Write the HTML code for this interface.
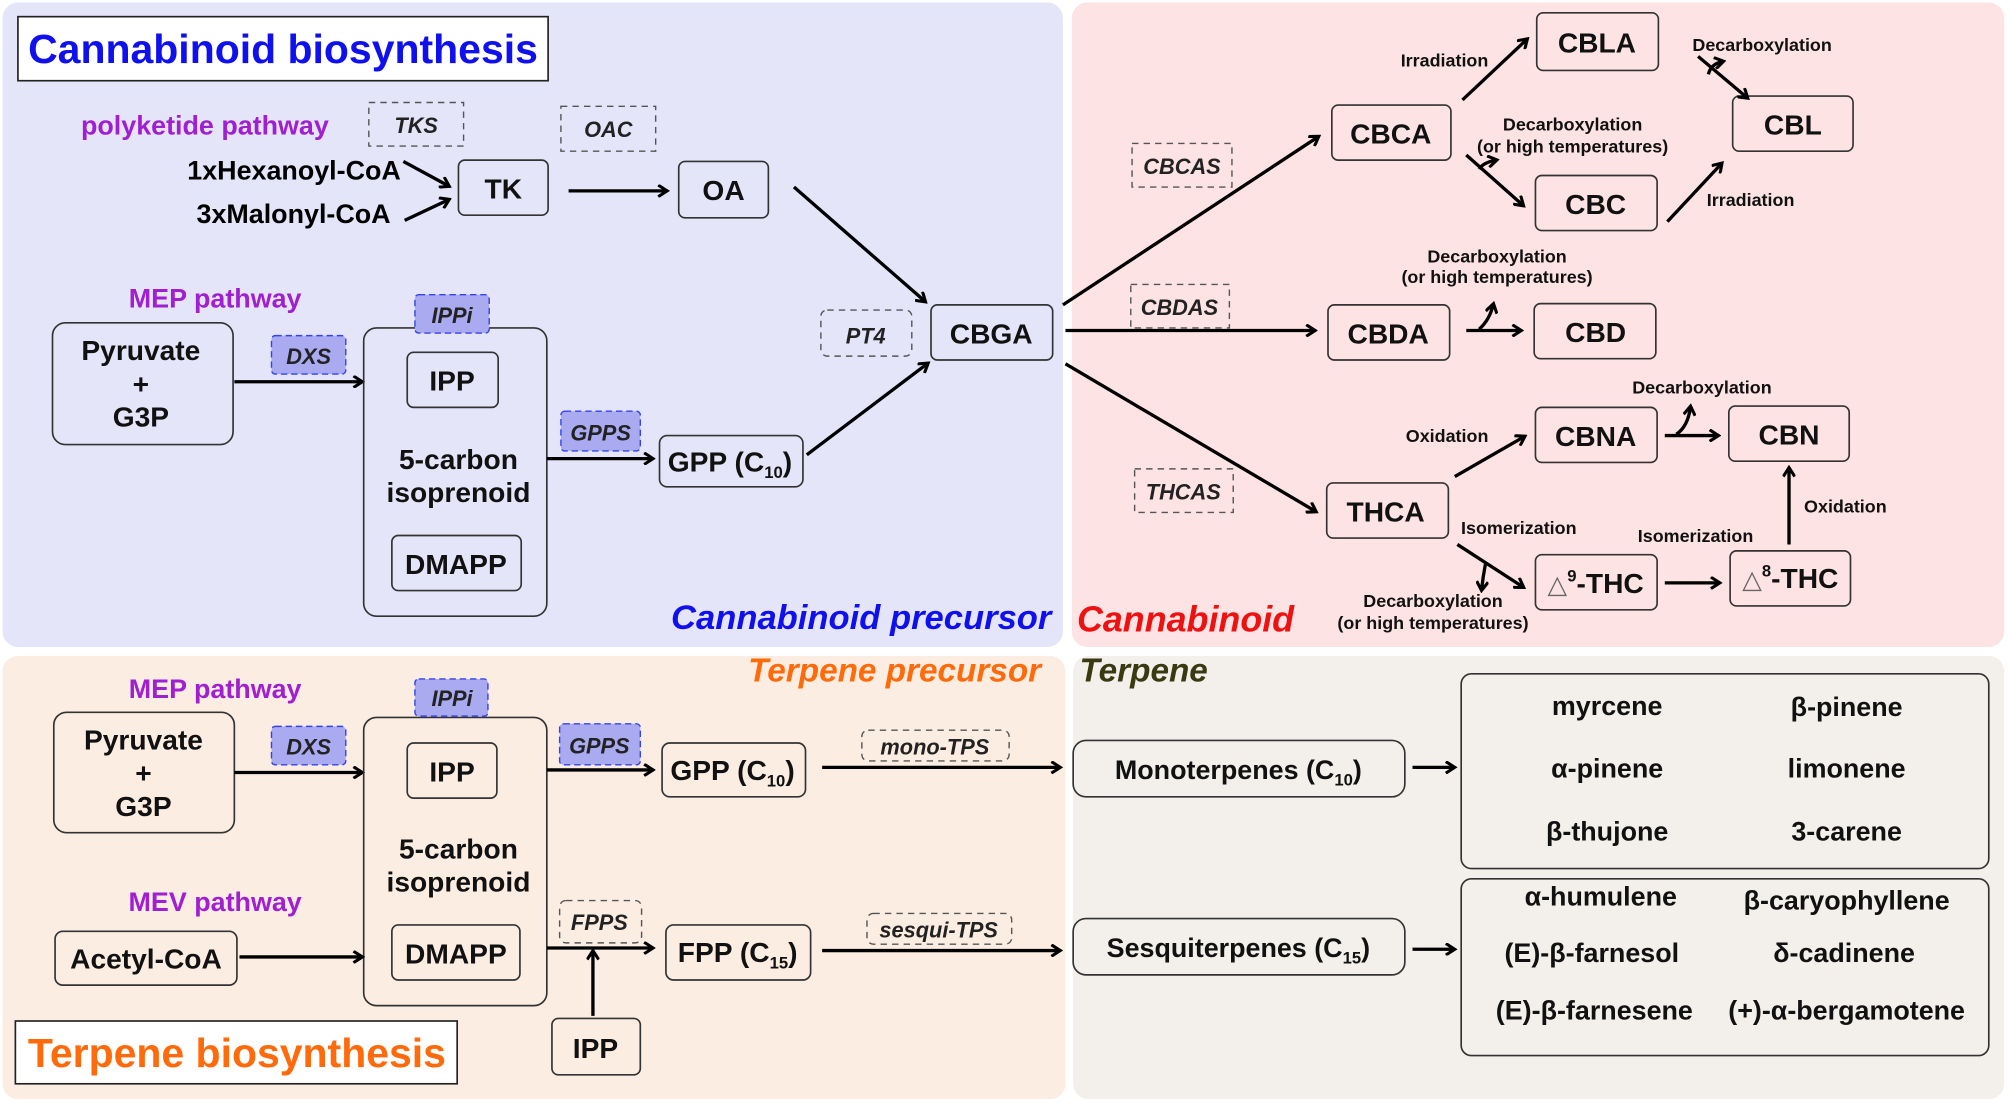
<!DOCTYPE html>
<html><head><meta charset="utf-8"><style>
html,body{margin:0;padding:0;background:#fff;}
svg{display:block;}
text{font-family:"Liberation Sans Narrow","Liberation Sans",sans-serif;font-weight:bold;}
.b{font-size:22px;fill:#111;text-anchor:middle;}
.s{font-size:14px;fill:#111;text-anchor:middle;}
.e{font-size:17px;font-style:italic;fill:#222;text-anchor:middle;}
.l{font-size:21px;fill:#111;text-anchor:middle;}
.p{font-size:21px;fill:#a01fd0;text-anchor:middle;}
.bx{fill:none;stroke:#333;stroke-width:1.3;}
.dx{fill:none;stroke:#555;stroke-width:1.1;stroke-dasharray:5 4;}
.fx{fill:#aaaaf0;stroke:#3344ee;stroke-width:1.1;stroke-dasharray:5 3;}
.a{stroke:#000;stroke-width:2.6;fill:none;marker-end:url(#m);}
.n{stroke:#000;stroke-width:2.6;fill:none;}
</style></head><body>
<svg width="2008" height="1103" viewBox="0 0 1568 861" preserveAspectRatio="none" xmlns="http://www.w3.org/2000/svg">
<defs><marker id="m" markerWidth="10" markerHeight="10" refX="7" refY="5" orient="auto" markerUnits="userSpaceOnUse"><path d="M1,0.5 L8,5 L1,9.5" fill="none" stroke="#000" stroke-width="2.4"/></marker></defs>
<rect width="1568" height="861" fill="#fff"/>
<rect x="2" y="2" width="828" height="503" rx="12" fill="#e5e5fa"/>
<rect x="837" y="2" width="728" height="503" rx="12" fill="#fde3e3"/>
<rect x="2" y="512" width="830" height="346" rx="12" fill="#fcede3"/>
<rect x="838" y="512" width="727" height="346" rx="12" fill="#f3efea"/>

<!-- top left -->
<rect x="14" y="13" width="414" height="50" fill="#fff" stroke="#222" stroke-width="1.3"/>
<text x="221" y="49" style="font-size:32px;fill:#1010ee;text-anchor:middle">Cannabinoid biosynthesis</text>
<text x="160" y="105" class="p">polyketide pathway</text>
<rect x="288" y="80" width="74" height="34" class="dx"/><text x="325" y="104" class="e">TKS</text>
<rect x="438" y="83" width="74" height="35" class="dx"/><text x="475" y="107" class="e">OAC</text>
<text x="313" y="140" style="font-size:21px;text-anchor:end">1xHexanoyl-CoA</text>
<text x="305" y="174" style="font-size:21px;text-anchor:end">3xMalonyl-CoA</text>
<line x1="315" y1="126" x2="350" y2="145" class="a"/>
<line x1="316" y1="172" x2="350" y2="156" class="a"/>
<rect x="358" y="125" width="70" height="43" rx="5" class="bx" fill="none"/><text x="393" y="155" class="b">TK</text>
<line x1="444" y1="149" x2="520" y2="149" class="a"/>
<rect x="530" y="126" width="70" height="44" rx="5" class="bx"/><text x="565" y="156" class="b">OA</text>
<line x1="620" y1="146" x2="722" y2="235" class="a"/>
<text x="168" y="240" class="p">MEP pathway</text>
<rect x="41" y="252" width="141" height="95" rx="10" class="bx"/>
<text x="110" y="281" class="b">Pyruvate</text><text x="110" y="307" class="b">+</text><text x="110" y="333" class="b">G3P</text>
<rect x="212" y="262" width="58" height="30" rx="3" class="fx"/><text x="241" y="284" class="e">DXS</text>
<line x1="183" y1="298" x2="282" y2="298" class="a"/>
<rect x="284" y="256" width="143" height="225" rx="10" class="bx"/>
<rect x="324" y="230" width="58" height="30" rx="3" class="fx"/><text x="353" y="252" class="e">IPPi</text>
<rect x="318" y="275" width="71" height="43" rx="5" class="bx"/><text x="353" y="305" class="b">IPP</text>
<text x="358" y="366" class="b">5-carbon</text><text x="358" y="392" class="b">isoprenoid</text>
<rect x="306" y="418" width="101" height="43" rx="5" class="bx"/><text x="356" y="448" class="b">DMAPP</text>
<rect x="438" y="321" width="62" height="31" rx="3" class="fx"/><text x="469" y="344" class="e">GPPS</text>
<line x1="427" y1="358" x2="509" y2="358" class="a"/>
<rect x="515" y="340" width="112" height="40" rx="6" class="bx"/>
<text x="570" y="368" class="b">GPP (C<tspan style="font-size:13px" dy="5">10</tspan><tspan dy="-5">)</tspan></text>
<line x1="630" y1="355" x2="724" y2="284" class="a"/>
<rect x="641" y="242" width="71" height="36" rx="5" class="dx"/><text x="676" y="268" class="e">PT4</text>
<rect x="727" y="238" width="95" height="43" rx="5" class="bx"/><text x="774" y="268" class="b">CBGA</text>
<text x="821" y="491" style="font-size:27px;font-style:italic;fill:#1010ee;text-anchor:end">Cannabinoid precursor</text>

<!-- top right -->
<line x1="830" y1="238" x2="1029" y2="107" class="a"/>
<line x1="832" y1="258" x2="1026" y2="258" class="a"/>
<line x1="832" y1="284" x2="1027" y2="399" class="a"/>
<rect x="884" y="112" width="78" height="34" class="dx"/><text x="923" y="136" class="e">CBCAS</text>
<rect x="883" y="222" width="77" height="34" class="dx"/><text x="921" y="246" class="e">CBDAS</text>
<rect x="886" y="366" width="77" height="34" class="dx"/><text x="924" y="390" class="e">THCAS</text>
<rect x="1040" y="82" width="93" height="43" rx="5" class="bx"/><text x="1086" y="112" class="b">CBCA</text>
<rect x="1200" y="10" width="95" height="45" rx="5" class="bx"/><text x="1247" y="41" class="b">CBLA</text>
<rect x="1353" y="75" width="94" height="43" rx="5" class="bx"/><text x="1400" y="105" class="b">CBL</text>
<rect x="1199" y="137" width="95" height="43" rx="5" class="bx"/><text x="1246" y="167" class="b">CBC</text>
<text x="1128" y="52" class="s">Irradiation</text>
<line x1="1142" y1="78" x2="1192" y2="31" class="a"/>
<text x="1376" y="40" class="s">Decarboxylation</text>
<line x1="1326" y1="44" x2="1364" y2="76" class="a"/>
<path d="M1334,58 Q1336,50 1345,48" class="n" marker-end="url(#m)"/>
<text x="1228" y="102" class="s">Decarboxylation</text><text x="1228" y="119" class="s">(or high temperatures)</text>
<line x1="1145" y1="121" x2="1189" y2="160" class="a"/>
<path d="M1155,132 Q1158,127 1168,125" class="n" marker-end="url(#m)"/>
<text x="1367" y="161" class="s">Irradiation</text>
<line x1="1302" y1="173" x2="1344" y2="128" class="a"/>
<rect x="1037" y="238" width="95" height="43" rx="5" class="bx"/><text x="1084" y="268" class="b">CBDA</text>
<rect x="1198" y="237" width="95" height="43" rx="5" class="bx"/><text x="1246" y="267" class="b">CBD</text>
<text x="1169" y="205" class="s">Decarboxylation</text><text x="1169" y="221" class="s">(or high temperatures)</text>
<line x1="1145" y1="258" x2="1187" y2="258" class="a"/>
<path d="M1155,257 Q1163,250 1166,238" class="n" marker-end="url(#m)"/>
<rect x="1036" y="377" width="95" height="43" rx="5" class="bx"/><text x="1082" y="407" class="b">THCA</text>
<text x="1130" y="345" class="s">Oxidation</text>
<line x1="1136" y1="372" x2="1190" y2="341" class="a"/>
<rect x="1199" y="318" width="95" height="43" rx="5" class="bx"/><text x="1246" y="348" class="b">CBNA</text>
<rect x="1350" y="317" width="94" height="43" rx="5" class="bx"/><text x="1397" y="347" class="b">CBN</text>
<text x="1329" y="307" class="s">Decarboxylation</text>
<line x1="1300" y1="340" x2="1341" y2="340" class="a"/>
<path d="M1309,339 Q1318,333 1320,318" class="n" marker-end="url(#m)"/>
<text x="1441" y="400" class="s">Oxidation</text>
<line x1="1397" y1="425" x2="1397" y2="366" class="a"/>
<text x="1186" y="417" class="s">Isomerization</text>
<text x="1324" y="423" class="s">Isomerization</text>
<rect x="1199" y="433" width="95" height="43" rx="5" class="bx"/>
<text x="1246" y="463" class="b"><tspan style="font-weight:normal;fill:#666;font-size:20px">△</tspan><tspan style="font-size:13px" dy="-9">9</tspan><tspan dy="9">-THC</tspan></text>
<rect x="1351" y="430" width="94" height="43" rx="5" class="bx"/>
<text x="1398" y="459" class="b"><tspan style="font-weight:normal;fill:#666;font-size:20px">△</tspan><tspan style="font-size:13px" dy="-9">8</tspan><tspan dy="9">-THC</tspan></text>
<line x1="1300" y1="455" x2="1342" y2="455" class="a"/>
<line x1="1138" y1="425" x2="1189" y2="458" class="a"/>
<path d="M1160,440 Q1158,450 1157,460" class="n" marker-end="url(#m)"/>
<text x="1119" y="474" class="s">Decarboxylation</text><text x="1119" y="491" class="s">(or high temperatures)</text>
<text x="841" y="493" style="font-size:28px;font-style:italic;fill:#ee1111">Cannabinoid</text>

<!-- bottom left -->
<text x="813" y="532" style="font-size:26px;font-style:italic;fill:#ff6a0a;text-anchor:end">Terpene precursor</text>
<text x="843" y="532" style="font-size:26px;font-style:italic;fill:#3a3a12">Terpene</text>
<text x="168" y="545" class="p">MEP pathway</text>
<rect x="42" y="556" width="141" height="94" rx="10" class="bx"/>
<text x="112" y="585" class="b">Pyruvate</text><text x="112" y="611" class="b">+</text><text x="112" y="637" class="b">G3P</text>
<rect x="212" y="567" width="58" height="30" rx="3" class="fx"/><text x="241" y="589" class="e">DXS</text>
<line x1="183" y1="603" x2="282" y2="603" class="a"/>
<rect x="284" y="560" width="143" height="225" rx="10" class="bx"/>
<rect x="324" y="530" width="57" height="29" rx="3" class="fx"/><text x="353" y="551" class="e">IPPi</text>
<rect x="318" y="580" width="70" height="43" rx="5" class="bx"/><text x="353" y="610" class="b">IPP</text>
<text x="358" y="670" class="b">5-carbon</text><text x="358" y="696" class="b">isoprenoid</text>
<rect x="306" y="722" width="100" height="43" rx="5" class="bx"/><text x="356" y="752" class="b">DMAPP</text>
<rect x="437" y="565" width="63" height="32" rx="3" class="fx"/><text x="468" y="588" class="e">GPPS</text>
<line x1="427" y1="601" x2="509" y2="601" class="a"/>
<rect x="517" y="580" width="112" height="42" rx="6" class="bx"/>
<text x="572" y="609" class="b">GPP (C<tspan style="font-size:13px" dy="5">10</tspan><tspan dy="-5">)</tspan></text>
<rect x="673" y="570" width="115" height="24" rx="5" class="dx"/><text x="730" y="589" class="e">mono-TPS</text>
<line x1="642" y1="599" x2="827" y2="599" class="a"/>
<text x="168" y="711" class="p">MEV pathway</text>
<rect x="43" y="727" width="142" height="42" rx="6" class="bx"/><text x="114" y="756" class="b">Acetyl-CoA</text>
<line x1="187" y1="747" x2="282" y2="747" class="a"/>
<rect x="437" y="703" width="64" height="33" rx="5" class="dx"/><text x="468" y="726" class="e">FPPS</text>
<line x1="427" y1="740" x2="509" y2="740" class="a"/>
<line x1="463" y1="793" x2="463" y2="743" class="a"/>
<rect x="431" y="795" width="69" height="44" rx="5" class="bx"/><text x="465" y="826" class="b">IPP</text>
<rect x="520" y="722" width="113" height="43" rx="6" class="bx"/>
<text x="576" y="751" class="b">FPP (C<tspan style="font-size:13px" dy="5">15</tspan><tspan dy="-5">)</tspan></text>
<rect x="677" y="713" width="113" height="24" rx="5" class="dx"/><text x="733" y="732" class="e">sesqui-TPS</text>
<line x1="642" y1="742" x2="827" y2="742" class="a"/>
<rect x="12" y="797" width="345" height="49" fill="#fff" stroke="#222" stroke-width="1.3"/>
<text x="185" y="833" style="font-size:32px;fill:#ff6a0a;text-anchor:middle">Terpene biosynthesis</text>

<!-- bottom right -->
<rect x="838" y="578" width="259" height="44" rx="10" class="bx"/>
<text x="967" y="608" class="b" style="font-size:21px">Monoterpenes (C<tspan style="font-size:13px" dy="5">10</tspan><tspan dy="-5">)</tspan></text>
<line x1="1103" y1="599" x2="1135" y2="599" class="a"/>
<rect x="1141" y="526" width="412" height="152" rx="8" class="bx"/>
<text x="1255" y="558" class="l">myrcene</text><text x="1442" y="559" class="l">β-pinene</text>
<text x="1255" y="607" class="l">α-pinene</text><text x="1442" y="607" class="l">limonene</text>
<text x="1255" y="656" class="l">β-thujone</text><text x="1442" y="656" class="l">3-carene</text>
<rect x="838" y="717" width="259" height="44" rx="10" class="bx"/>
<text x="967" y="747" class="b" style="font-size:21px">Sesquiterpenes (C<tspan style="font-size:13px" dy="5">15</tspan><tspan dy="-5">)</tspan></text>
<line x1="1103" y1="741" x2="1135" y2="741" class="a"/>
<rect x="1141" y="686" width="412" height="138" rx="8" class="bx"/>
<text x="1250" y="707" class="l">α-humulene</text><text x="1442" y="710" class="l">β-caryophyllene</text>
<text x="1243" y="751" class="l">(E)-β-farnesol</text><text x="1440" y="751" class="l">δ-cadinene</text>
<text x="1245" y="796" class="l">(E)-β-farnesene</text><text x="1442" y="796" class="l">(+)-α-bergamotene</text>
</svg>
</body></html>
